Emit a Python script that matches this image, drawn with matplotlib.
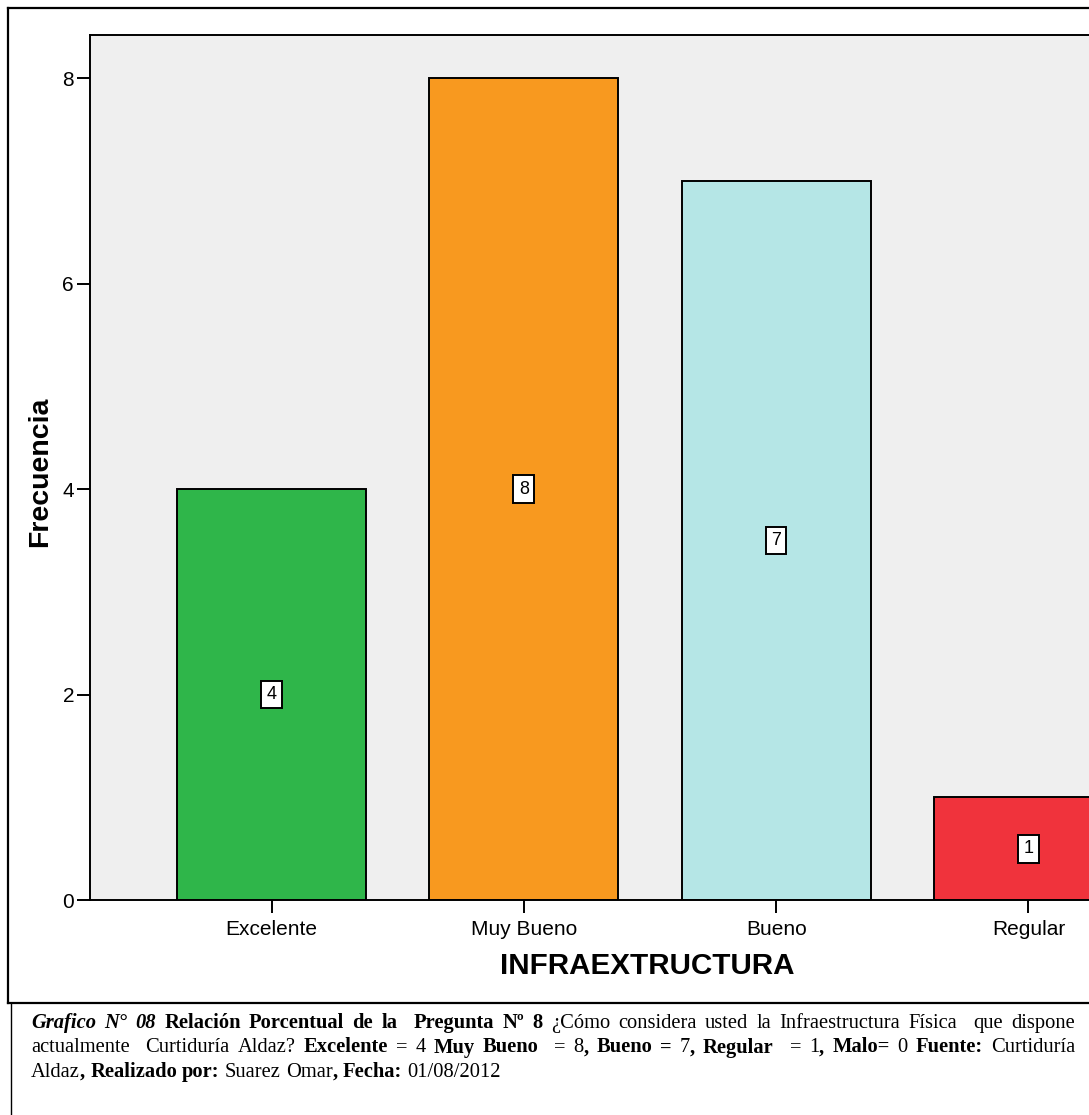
import numpy as np
import matplotlib
matplotlib.use("Agg")
import matplotlib.pyplot as plt
from matplotlib.lines import Line2D

categorias = ["Excelente", "Muy Bueno", "Bueno", "Regular"]
frecuencias = [4, 8, 7, 1]
colores = ["#2fb64a", "#f8991f", "#b5e6e6", "#f0333c"]
yticks = [0, 2, 4, 6, 8]

W, H = 1089, 1115
fig = plt.figure(figsize=(W / 100, H / 100), dpi=100)

def fx(px):
    return px / W

def fy(py):
    return 1 - py / H

# outer frames
fig.add_artist(Line2D([fx(8), fx(8)], [fy(8), fy(1003)], color="black", lw=1.6))
fig.add_artist(Line2D([fx(8), fx(1100)], [fy(8), fy(8)], color="black", lw=1.6))
fig.add_artist(Line2D([fx(8), fx(1100)], [fy(1003), fy(1003)], color="black", lw=1.6))
fig.add_artist(Line2D([fx(11), fx(11)], [fy(1003), fy(1120)], color="black", lw=1.0))

ax = fig.add_axes([fx(90), fy(900), (1210 - 90) / W, (900 - 35) / H])
ax.set_facecolor("#efefef")
x = np.arange(len(categorias))
ax.bar(x, frecuencias, width=0.75, color=colores, edgecolor="black", linewidth=1.4, zorder=2)
ax.set_xlim(-0.72, 3.72)
ax.set_ylim(0, 8.42)
ax.set_xticks(x)
ax.set_xticklabels(categorias, fontsize=15, family="Liberation Sans")
ax.set_yticks(yticks)
ax.set_yticklabels([str(v) for v in yticks], fontsize=15, family="Liberation Sans")
ax.tick_params(axis="both", length=9.5, width=1.4, direction="out", pad=2)
ax.tick_params(axis="x", pad=5)
for s in ["left", "bottom", "top"]:
    ax.spines[s].set_linewidth(1.4)
ax.spines["right"].set_visible(False)

for xi, v in zip(x, frecuencias):
    ax.text(xi, v / 2, str(v), ha="center", va="center", fontsize=13, family="Liberation Sans",
            bbox=dict(boxstyle="square,pad=0.3", facecolor="white", edgecolor="black", linewidth=1.4), zorder=3)

fig.text(fx(40), fy(472), "Frecuencia", rotation=90, ha="center", va="center",
         fontsize=20.5, fontweight="bold", family="Liberation Sans")
fig.text(fx(647), fy(966), "INFRAEXTRUCTURA", ha="center", va="center",
         fontsize=21.3, fontweight="bold", family="Liberation Sans")

# caption: words made of runs (text, style); None marks a double space
R, B, BI = "r", "b", "bi"
linea1 = [[("Grafico", BI)], [("N°", BI)], [("08", BI)], [("Relación", B)], [("Porcentual", B)],
          [("de", B)], [("la", B)], None, [("Pregunta", B)], [("Nº", B)], [("8", B)], [("¿Cómo", R)],
          [("considera", R)], [("usted", R)], [("la", R)], [("Infraestructura", R)], [("Física", R)], None,
          [("que", R)], [("dispone", R)]]
linea2 = [[("actualmente", R)], None, [("Curtiduría", R)], [("Aldaz?", R)], [("Excelente", B)], [("=", R)],
          [("4", R)], [("Muy", B)], [("Bueno", B)], None, [("=", R)], [("8", R), (",", B)], [("Bueno", B)],
          [("=", B)], [("7", R), (",", B)], [("Regular", B)], None, [("=", R)], [("1", R), (",", B)],
          [("Malo=", B)], [("0", R)], [("Fuente:", B)], [("Curtiduría", R)]]
linea3 = [[("Aldaz", R), (",", B)], [("Realizado", B)], [("por:", B)], [("Suarez", R)], [("Omar", R), (",", B)],
          [("Fecha:", B)], [("01/08/2012", R)]]

estilos = {R: dict(fontweight="normal", fontstyle="normal"),
           B: dict(fontweight="bold", fontstyle="normal"),
           BI: dict(fontweight="bold", fontstyle="italic")}
cap_fs = 14.8
renderer = fig.canvas.get_renderer()

def ancho(txt, st):
    t = fig.text(0, 0, txt, fontsize=cap_fs, family="Liberation Serif", **estilos[st])
    w = t.get_window_extent(renderer).width
    t.remove()
    return w

esp = ancho("a a", R) - ancho("aa", R)

def dibujar(linea, base_y, justificar, x0=31, x1=1075):
    palabras = []
    gaps = []
    extra = 0
    for item in linea:
        if item is None:
            gaps[-1] += 1
            continue
        palabras.append(item)
        gaps.append(1)
    gaps = gaps[:-1]
    anchos = [sum(ancho(t, s) for t, s in p) for p in palabras]
    total = sum(anchos) + esp * sum(gaps)
    if justificar and gaps:
        extra = (x1 - x0 - total) / sum(gaps)
    xp = x0
    for i, p in enumerate(palabras):
        for t, s in p:
            fig.text(fx(xp), fy(base_y), t, fontsize=cap_fs, family="Liberation Serif",
                     va="baseline", ha="left", **estilos[s])
            xp += ancho(t, s)
        if i < len(gaps):
            xp += (esp + extra) * gaps[i]

dibujar(linea1, 1028, True)
dibujar(linea2, 1052.5, True)
dibujar(linea3, 1077, False)

fig.savefig("out.png", dpi=100)
